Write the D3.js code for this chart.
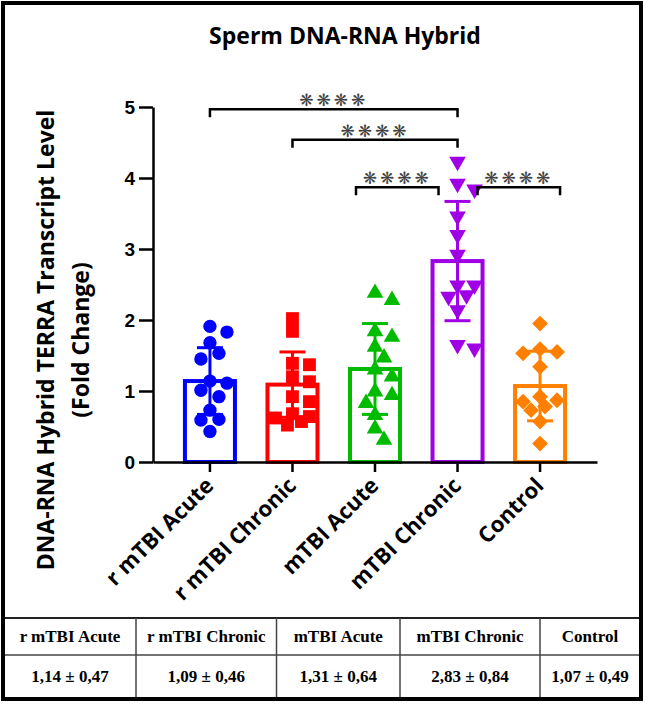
<!DOCTYPE html>
<html>
<head>
<meta charset="utf-8">
<script src="https://cdn.jsdelivr.net/npm/d3@7"></script>
<style>
  body { margin: 0; background: #fff; }
  svg { display: block; }
</style>
</head>
<body>
<div id="chart"></div>
<script>
    const groups = ["r mTBI Acute", "r mTBI Chronic", "mTBI Acute", "mTBI Chronic", "Control"]
    const means = [1.14, 1.09, 1.31, 2.83, 1.07]
    const sds = [0.47, 0.46, 0.64, 0.84, 0.49]

    // individual fold-change values
    const rAcute = [1.91, 1.83, 1.68, 1.53, 1.45, 1.14, 1.11, 1.01, 0.92, 0.73, 0.60, 0.59, 0.43]
    const rChronic = [2.02, 1.84, 1.39, 1.37, 1.20, 1.13, 0.92, 0.85, 0.68, 0.64, 0.62, 0.57, 0.52]
    const mAcute = [2.38, 2.28, 1.84, 1.76, 1.62, 1.47, 1.30, 1.20, 0.99, 0.94, 0.83, 0.66, 0.47, 0.31]
    const mChronic = [4.23, 3.92, 3.84, 3.46, 3.20, 2.92, 2.49, 2.49, 2.35, 2.33, 2.14, 1.65, 1.60]
    const control = [1.95, 1.59, 1.55, 1.53, 1.34, 0.92, 0.87, 0.85, 0.78, 0.73, 0.57, 0.26]
    const points = [rAcute, rChronic, mAcute, mChronic, control]

    const yTicks = [0, 1, 2, 3, 4, 5]
    const comparisons = [
        ["r mTBI Acute", "mTBI Chronic", 4.97],
        ["r mTBI Chronic", "mTBI Chronic", 4.54],
        ["mTBI Acute", "mTBI Chronic", 3.87],
        ["mTBI Chronic", "Control", 3.87]
    ]
    const stars = "❋❋❋❋"

    const w = 645;
    const h = 704;
    var colors = ["#0000ff", "#ff0000", "#00bb00", "#a000e6", "#ff8000"];
    var shapes = [d3.symbolCircle, d3.symbolSquare, d3.symbolTriangle, d3.symbolTriangle, d3.symbolSquare]
    var rot = [0, 0, 0, 180, 45]
    var sizes = [140, 165, 120, 120, 125]

    var x = d3.scaleBand()
        .domain(groups)
        .range([153, 597])
        .paddingInner(0)
        .paddingOuter(0.19)

    var y = d3.scaleLinear()
        .domain([0, 5])
        .range([462, 107])

    const svg = d3.select("#chart")
        .append("svg")
        .attr("width", w)
        .attr("height", h)

    const cx = g => x(g) + x.bandwidth() / 2
    const barW = 50

    // title
    svg.append("text")
        .attr("x", 345)
        .attr("y", 44)
        .attr("text-anchor", "middle")
        .style("font-family", "Open Sans")
        .style("font-weight", "bold")
        .style("font-size", "23px")
        .text("Sperm DNA-RNA Hybrid")

    // y label
    const yl = svg.append("g")
        .attr("transform", "translate(0,340) rotate(-90)")
        .style("font-family", "Open Sans")
        .style("font-weight", "bold")
        .style("font-size", "23px")
        .attr("text-anchor", "middle")
    yl.append("text").attr("x", 0).attr("y", 54).text("DNA-RNA Hybrid TERRA Transcript Level")
    yl.append("text").attr("x", 0).attr("y", 89).text("(Fold Change)")

    // bars
    svg.selectAll("rect.bar")
        .data(groups)
        .enter()
        .append("rect")
        .attr("class", "bar")
        .attr("x", d => cx(d) - barW / 2)
        .attr("y", (d, i) => y(means[i]))
        .attr("width", barW)
        .attr("height", (d, i) => y(0) - y(means[i]))
        .attr("fill", "none")
        .attr("stroke", (d, i) => colors[i])
        .attr("stroke-width", 4)

    // scatter, simple dodge so points do not pile up
    groups.forEach((g, i) => {
        let placed = []
        let sorted = points[i].slice().sort((a, b) => b - a)
        sorted.forEach(v => {
            let py = y(v)
            let offs = [0, 9, -9, 17, -17, 5, -5, 13, -13, 21, -21]
            let best = offs[0], bestD = -1
            for (let o of offs) {
                let dmin = d3.min(placed, p => Math.hypot(p[0] - o, p[1] - py))
                if (dmin === undefined) dmin = 99
                if (dmin >= 12) { best = o; bestD = dmin; break }
                if (dmin > bestD) { bestD = dmin; best = o }
            }
            placed.push([best, py])
        })
        svg.append("g")
            .selectAll("path")
            .data(placed)
            .enter()
            .append("path")
            .attr("d", d3.symbol().type(shapes[i]).size(sizes[i]))
            .attr("transform", d => `translate(${cx(g) + d[0]},${d[1]}) rotate(${rot[i]})`)
            .attr("fill", colors[i])
    })

    // error bars (mean ± SD)
    const eb = svg.append("g")
    groups.forEach((g, i) => {
        let c = colors[i]
        eb.append("line")
            .attr("x1", cx(g)).attr("x2", cx(g))
            .attr("y1", y(means[i] + sds[i])).attr("y2", y(means[i] - sds[i]))
            .attr("stroke", c).attr("stroke-width", 3)
        ;[means[i] + sds[i], means[i] - sds[i]].forEach(v => {
            eb.append("line")
                .attr("x1", cx(g) - 13).attr("x2", cx(g) + 13)
                .attr("y1", y(v)).attr("y2", y(v))
                .attr("stroke", c).attr("stroke-width", 3)
        })
    })

    // axes
    const yAxis = svg.append("g")
        .attr("transform", "translate(153,0)")
        .call(d3.axisLeft(y).tickValues(yTicks).tickSize(14).tickSizeOuter(0).tickPadding(4).tickFormat(d3.format("d")))
    yAxis.selectAll("path, line").attr("stroke", "#000").attr("stroke-width", 2.5)
    yAxis.selectAll("text")
        .style("font-family", "Liberation Sans")
        .style("font-weight", "bold")
        .style("font-size", "19px")
        .attr("fill", "#000")

    const xAxis = svg.append("g")
        .attr("transform", "translate(0,462)")
        .call(d3.axisBottom(x).tickSize(10).tickSizeOuter(0).tickFormat(""))
    xAxis.selectAll("path, line").attr("stroke", "#000").attr("stroke-width", 2.5)

    svg.append("g")
        .selectAll("text")
        .data(groups)
        .enter()
        .append("text")
        .attr("transform", d => `translate(${cx(d) + 5},${487}) rotate(-45)`)
        .attr("text-anchor", "end")
        .style("font-family", "Open Sans")
        .style("font-weight", "bold")
        .style("font-size", "22px")
        .text(d => d)

    // significance brackets
    const br = svg.append("g")
    comparisons.forEach(c => {
        let x1 = cx(c[0]), x2 = cx(c[1])
        if (c[2] < 4) {
            let s = c[1] === "mTBI Chronic" ? -19 : 20
            x1 += s; x2 += s
        }
        let yy = y(c[2])
        br.append("path")
            .attr("d", `M${x1},${yy + 8}V${yy}H${x2}V${yy + 8}`)
            .attr("fill", "none")
            .attr("stroke", "#000")
            .attr("stroke-width", 2.5)
        br.append("text")
            .attr("x", (x1 + x2) / 2)
            .attr("y", yy - 9)
            .attr("text-anchor", "middle")
            .attr("dominant-baseline", "central")
            .attr("fill", "#444")
            .style("font-family", "DejaVu Sans")
            .style("font-size", "17px")
            .style("letter-spacing", "3px")
            .text(stars)
    })

    // table of mean ± SD
    const cols = [4, 136, 276.5, 400, 540, 640]
    const tb = svg.append("g")
    tb.append("line").attr("x1", 3).attr("x2", 641).attr("y1", 618).attr("y2", 618)
        .attr("stroke", "#222").attr("stroke-width", 2)
    tb.append("line").attr("x1", 3).attr("x2", 641).attr("y1", 655).attr("y2", 655)
        .attr("stroke", "#444").attr("stroke-width", 1.5)
    cols.slice(1, 5).forEach(cx0 => {
        tb.append("line").attr("x1", cx0).attr("x2", cx0).attr("y1", 618).attr("y2", 699)
            .attr("stroke", "#444").attr("stroke-width", 1.5)
    })
    const fmt = v => d3.format(".2f")(v).replace(".", ",")
    groups.forEach((g, i) => {
        let mid = (cols[i] + cols[i + 1]) / 2
        tb.append("text")
            .attr("x", mid).attr("y", 642)
            .attr("text-anchor", "middle")
            .style("font-family", "Liberation Serif")
            .style("font-weight", "bold")
            .style("font-size", "17px")
            .text(g)
        tb.append("text")
            .attr("x", mid).attr("y", 682)
            .attr("text-anchor", "middle")
            .style("font-family", "Liberation Serif")
            .style("font-weight", "bold")
            .style("font-size", "17px")
            .text(fmt(means[i]) + " ± " + fmt(sds[i]))
    })

    // outer frame
    svg.append("rect")
        .attr("x", 3).attr("y", 3)
        .attr("width", 638).attr("height", 696)
        .attr("fill", "none")
        .attr("stroke", "#000")
        .attr("stroke-width", 4)
</script>
</body>
</html>
